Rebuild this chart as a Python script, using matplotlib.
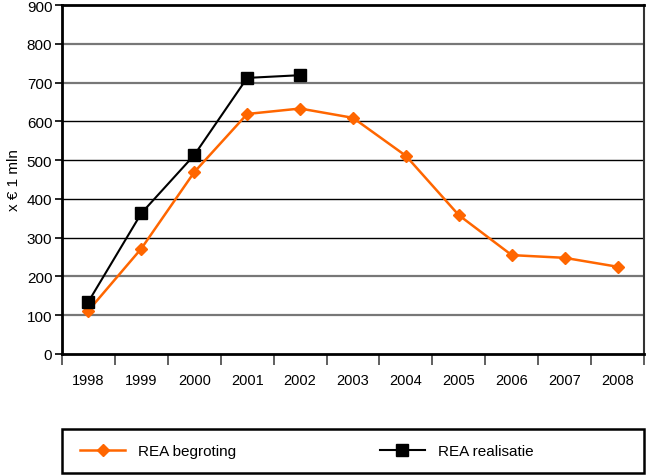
import matplotlib
matplotlib.use("Agg")
import matplotlib.pyplot as plt
from matplotlib.patches import Rectangle
from matplotlib.ticker import FixedLocator

# ----Datos----
jaren = ["1998", "1999", "2000", "2001", "2002", "2003", "2004", "2005", "2006", "2007", "2008"]
begroting = [112, 272, 469, 619, 633, 609, 511, 358, 255, 248, 225]
realisatie = [135, 363, 513, 712, 719]
yticks = [0, 100, 200, 300, 400, 500, 600, 700, 800, 900]

plt.rcParams['font.family'] = ['Liberation Sans', 'DejaVu Sans']
oranje = "#FF6600"

fig = plt.figure(figsize=(6.46, 4.77), dpi=100)
ax = fig.add_axes([62/646, 122/477, 582/646, 349/477])

x1 = list(range(len(jaren)))
x2 = list(range(len(realisatie)))

# ----Rejilla----
for v in yticks[1:-1]:
    if 300 <= v <= 600:
        ax.axhline(v, color="black", lw=1.0, zorder=0)
    else:
        ax.axhline(v, color="#777777", lw=1.6, zorder=0)

ax.plot(x1, begroting, color=oranje, lw=1.8, marker="D", ms=6.5, label="REA begroting", zorder=3)
ax.plot(x2, realisatie, color="black", lw=1.5, marker="s", ms=8.5, label="REA realisatie", zorder=4)

ax.set_xlim(-0.5, len(jaren) - 0.5)
ax.set_ylim(0, 900)
ax.set_yticks(yticks)
ax.set_xticks(x1)
ax.set_xticklabels(jaren)
ax.xaxis.set_minor_locator(FixedLocator([i - 0.5 for i in range(len(jaren) + 1)]))
ax.tick_params(axis="x", which="major", length=0, pad=14, labelsize=10.5)
ax.tick_params(axis="x", which="minor", length=8, width=1.2, color="#444444", direction="out")
ax.tick_params(axis="y", length=5, width=1.2, direction="out", labelsize=11, pad=2)
ax.set_ylabel("x € 1 mln", fontsize=11, labelpad=4)

for s in ["left", "bottom", "top"]:
    ax.spines[s].set_linewidth(2)
    ax.spines[s].set_color("black")
ax.spines["right"].set_linewidth(1.5)
ax.spines["right"].set_color("#333333")

# ----Leyenda----
fig.patches.append(Rectangle((62/646, 3/477), 582/646, 44/477, transform=fig.transFigure,
                             fill=False, edgecolor="black", lw=1.8))
h, l = ax.get_legend_handles_labels()
fig.legend(h, l, loc="center left", bbox_to_anchor=(80/646, 25/477), ncol=2, frameon=False,
           fontsize=11, handlelength=2.95, handletextpad=0.85, columnspacing=9.4,
           borderpad=0, borderaxespad=0)

fig.savefig("out.png", dpi=100)
